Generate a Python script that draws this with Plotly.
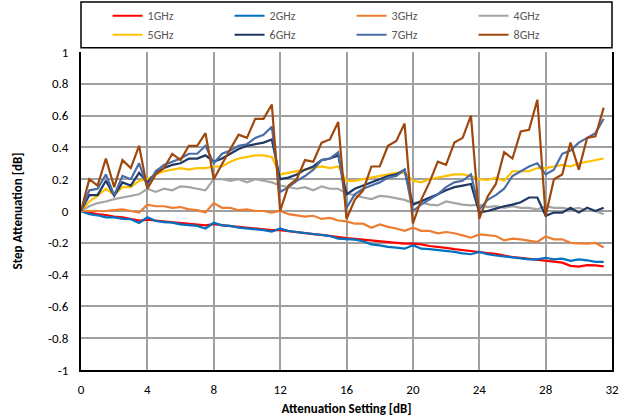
import plotly.graph_objects as go

# attenuation setting [dB]
setting = [0, 0.5, 1, 1.5, 2, 2.5, 3, 3.5, 4, 4.5, 5, 5.5, 6, 6.5, 7, 7.5,
           8, 8.5, 9, 9.5, 10, 10.5, 11, 11.5, 12, 12.5, 13, 13.5, 14, 14.5, 15, 15.5,
           16, 16.5, 17, 17.5, 18, 18.5, 19, 19.5, 20, 20.5, 21, 21.5, 22, 22.5, 23, 23.5,
           24, 24.5, 25, 25.5, 26, 26.5, 27, 27.5, 28, 28.5, 29, 29.5, 30, 30.5, 31, 31.5]

# step attenuation [dB] per frequency
ghz1 = [0, -0.01, -0.02, -0.025, -0.035, -0.04, -0.05, -0.06, -0.055, -0.06, -0.065, -0.07, -0.075, -0.08, -0.085, -0.09,
        -0.082, -0.09, -0.095, -0.1, -0.105, -0.11, -0.115, -0.12, -0.12, -0.127, -0.13, -0.14, -0.145, -0.15, -0.158, -0.165,
        -0.17, -0.175, -0.18, -0.185, -0.19, -0.195, -0.2, -0.205, -0.205, -0.21, -0.22, -0.225, -0.232, -0.24, -0.245, -0.25,
        -0.258, -0.265, -0.27, -0.28, -0.29, -0.295, -0.3, -0.305, -0.31, -0.318, -0.325, -0.345, -0.35, -0.34, -0.342, -0.348]
ghz2 = [0, -0.02, -0.027, -0.04, -0.04, -0.05, -0.052, -0.075, -0.04, -0.063, -0.07, -0.073, -0.084, -0.09, -0.094, -0.11,
        -0.074, -0.09, -0.094, -0.105, -0.11, -0.115, -0.12, -0.13, -0.11, -0.126, -0.132, -0.14, -0.143, -0.153, -0.157, -0.174,
        -0.175, -0.18, -0.19, -0.21, -0.216, -0.226, -0.23, -0.237, -0.215, -0.237, -0.24, -0.245, -0.25, -0.257, -0.266, -0.272,
        -0.257, -0.272, -0.28, -0.287, -0.294, -0.3, -0.304, -0.304, -0.294, -0.304, -0.3, -0.314, -0.304, -0.31, -0.32, -0.32]
ghz3 = [0, 0, 0, 0, 0.005, 0.01, 0, -0.01, 0.04, 0.03, 0.03, 0.02, 0.025, 0.01, 0.005, -0.01,
        0.05, 0.02, 0.02, 0.005, 0.01, 0, 0, -0.01, 0, -0.02, -0.027, -0.035, -0.03, -0.05, -0.043, -0.06,
        -0.065, -0.08, -0.08, -0.105, -0.085, -0.1, -0.11, -0.125, -0.105, -0.125, -0.125, -0.14, -0.132, -0.14, -0.153, -0.168,
        -0.147, -0.153, -0.157, -0.185, -0.174, -0.178, -0.185, -0.195, -0.16, -0.178, -0.178, -0.2, -0.203, -0.205, -0.2, -0.23]
ghz4 = [0, 0.03, 0.05, 0.06, 0.075, 0.085, 0.095, 0.105, 0.14, 0.12, 0.14, 0.13, 0.155, 0.15, 0.14, 0.13,
        0.2, 0.2, 0.19, 0.2, 0.18, 0.2, 0.19, 0.18, 0.16, 0.15, 0.14, 0.15, 0.13, 0.155, 0.14, 0.14,
        0.11, 0.1, 0.085, 0.075, 0.095, 0.09, 0.08, 0.07, 0.05, 0.055, 0.04, 0.035, 0.06, 0.05, 0.04, 0.035,
        0.04, 0.025, 0.03, 0.02, 0.03, 0.02, 0.02, 0.01, 0.03, 0.02, 0.02, 0.01, 0.02, 0, 0, -0.02]
ghz5 = [0, 0.06, 0.095, 0.14, 0.1, 0.15, 0.15, 0.19, 0.2, 0.23, 0.25, 0.26, 0.27, 0.26, 0.27, 0.27,
        0.28, 0.28, 0.31, 0.33, 0.34, 0.35, 0.35, 0.34, 0.23, 0.24, 0.25, 0.26, 0.27, 0.28, 0.27, 0.28,
        0.19, 0.19, 0.2, 0.21, 0.22, 0.23, 0.24, 0.24, 0.19, 0.18, 0.2, 0.21, 0.22, 0.23, 0.23, 0.22,
        0.2, 0.195, 0.21, 0.19, 0.25, 0.25, 0.25, 0.27, 0.27, 0.28, 0.29, 0.28, 0.3, 0.31, 0.32, 0.33]
ghz6 = [0, 0.1, 0.1, 0.19, 0.095, 0.18, 0.16, 0.24, 0.18, 0.24, 0.27, 0.29, 0.3, 0.33, 0.33, 0.35,
        0.31, 0.33, 0.36, 0.39, 0.41, 0.42, 0.43, 0.45, 0.2, 0.21, 0.23, 0.26, 0.28, 0.32, 0.33, 0.35,
        0.105, 0.14, 0.16, 0.18, 0.2, 0.22, 0.23, 0.26, 0.04, 0.06, 0.08, 0.105, 0.13, 0.15, 0.16, 0.17,
        -0.01, 0, 0.015, 0.03, 0.04, 0.055, 0.085, 0.085, -0.03, -0.01, -0.01, 0.02, -0.01, 0.02, 0, 0.02]
ghz7 = [0, 0.13, 0.14, 0.23, 0.1, 0.22, 0.2, 0.3, 0.15, 0.25, 0.29, 0.31, 0.33, 0.36, 0.36, 0.41,
        0.3, 0.36, 0.38, 0.41, 0.42, 0.46, 0.48, 0.53, 0.12, 0.15, 0.19, 0.22, 0.26, 0.32, 0.33, 0.37,
        0.02, 0.105, 0.14, 0.16, 0.18, 0.21, 0.22, 0.26, 0, 0.04, 0.07, 0.105, 0.15, 0.18, 0.19, 0.23,
        0.01, 0.07, 0.1, 0.14, 0.22, 0.25, 0.28, 0.3, 0.23, 0.26, 0.36, 0.38, 0.43, 0.46, 0.49, 0.58]
ghz8 = [0, 0.2, 0.16, 0.33, 0.15, 0.32, 0.27, 0.41, 0.14, 0.23, 0.27, 0.36, 0.32, 0.41, 0.41, 0.49,
        0.2, 0.3, 0.39, 0.48, 0.46, 0.58, 0.58, 0.67, 0, 0.16, 0.2, 0.32, 0.31, 0.43, 0.45, 0.56,
        -0.05, 0.07, 0.13, 0.28, 0.28, 0.41, 0.44, 0.55, -0.08, 0.07, 0.18, 0.31, 0.29, 0.43, 0.46, 0.6,
        -0.05, 0.09, 0.17, 0.37, 0.33, 0.5, 0.51, 0.7, -0.03, 0.2, 0.23, 0.43, 0.26, 0.46, 0.47, 0.65]

names = ["1GHz", "2GHz", "3GHz", "4GHz", "5GHz", "6GHz", "7GHz", "8GHz"]
series = [ghz1, ghz2, ghz3, ghz4, ghz5, ghz6, ghz7, ghz8]
colors = ["#ff0000", "#0070c0", "#ed7d31", "#a5a5a5",
          "#ffc000", "#1f3864", "#4a6da7", "#9e480e"]

x_ticks = [0, 4, 8, 12, 16, 20, 24, 28, 32]
y_ticks = [1, 0.8, 0.6, 0.4, 0.2, 0, -0.2, -0.4, -0.6, -0.8, -1]
y_labels = ["1", "0.8", "0.6", "0.4", "0.2", "0", "-0.2", "-0.4", "-0.6", "-0.8", "-1"]

FONT = "Carlito, Lato, sans-serif"

fig = go.Figure()
for name, ys, col in zip(names, series, colors):
    fig.add_trace(go.Scatter(x=setting, y=ys, name=name, mode="lines",
                             line=dict(color=col, width=2.2)))

# legend frame drawn as a box spanning the plot width
fig.add_shape(type="rect", xref="paper", yref="paper",
              x0=0, x1=1, y0=1.013, y1=1.157,
              line=dict(color="#000000", width=1.5), fillcolor="white")

fig.update_layout(
    width=626, height=418,
    paper_bgcolor="white", plot_bgcolor="white",
    margin=dict(l=81, r=14, t=52, b=48),
    font=dict(family=FONT, size=13, color="#000000"),
    legend=dict(orientation="h", x=0.05, xanchor="left",
                yref="container", y=0.997, yanchor="top",
                entrywidth=77, entrywidthmode="pixels",
                borderwidth=0, bgcolor="rgba(0,0,0,0)",
                font=dict(family=FONT, size=12, color="#595959"),
                tracegroupgap=0, itemwidth=30),
)
fig.update_xaxes(range=[0, 32], tickvals=x_ticks, showgrid=True,
                 gridcolor="#a0a0a0", gridwidth=1.5, zeroline=False,
                 showline=True, linecolor="#000000", linewidth=2,
                 ticks="", ticklabelstandoff=6, automargin=False,
                 title=dict(text="<b>Attenuation Setting [dB]</b>", standoff=8,
                            font=dict(size=13)))
fig.update_yaxes(range=[-1, 1], tickvals=y_ticks, ticktext=y_labels, showgrid=True,
                 gridcolor="#a0a0a0", gridwidth=1.5, zeroline=False,
                 showline=True, linecolor="#000000", linewidth=2, mirror=True,
                 ticks="", ticklabelstandoff=8, automargin=False,
                 title=dict(text="<b>Step Attenuation [dB]</b>", standoff=22,
                            font=dict(size=13)))

fig.write_html("out.html", config={"displayModeBar": False},
               post_script="document.body.style.margin='0';")
